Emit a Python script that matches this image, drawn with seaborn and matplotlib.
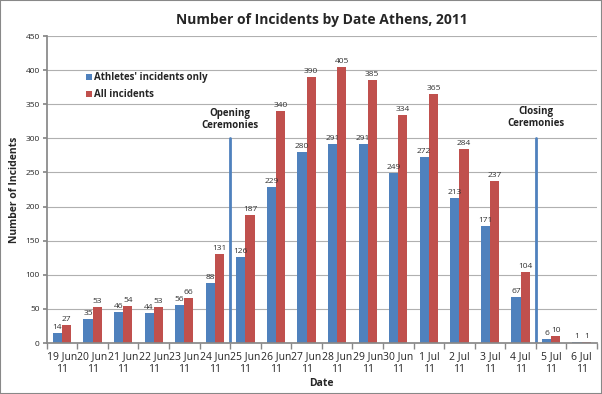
import matplotlib
matplotlib.use("Agg")
import matplotlib.pyplot as plt
import numpy as np
import pandas as pd
import seaborn as sns
from matplotlib.patches import Rectangle
from matplotlib.ticker import FixedLocator, MultipleLocator

dates = ["19 Jun\n11", "20 Jun\n11", "21 Jun\n11", "22 Jun\n11", "23 Jun\n11",
         "24 Jun\n11", "25 Jun\n11", "26 Jun\n11", "27 Jun\n11", "28 Jun\n11",
         "29 Jun\n11", "30 Jun\n11", "1 Jul\n11", "2 Jul\n11", "3 Jul\n11",
         "4 Jul\n11", "5 Jul\n11", "6 Jul\n11"]
athletes = [14, 35, 46, 44, 56, 88, 126, 229, 280, 291, 291, 249, 272, 213, 171, 67, 6, 1]
all_incidents = [27, 53, 54, 53, 66, 131, 187, 340, 390, 405, 385, 334, 365, 284, 237, 104, 10, 1]
series = ["Athletes' incidents only", "All incidents"]
colors = ["#4F81BD", "#C0504D"]
events = [("Opening\nCeremonies", 5.5, 345), ("Closing\nCeremonies", 15.5, 348)]
event_height = 300

sns.set_theme(style="white")
plt.rcParams["font.family"] = ["Open Sans", "DejaVu Sans"]

df = pd.DataFrame({
    "date": dates * 2,
    "count": athletes + all_incidents,
    "series": [series[0]] * len(dates) + [series[1]] * len(dates),
})

fig = plt.figure(figsize=(6.02, 3.94), dpi=100)
ax = fig.add_axes([0.0776, 0.1294, 0.914, 0.7792])
sns.barplot(data=df, x="date", y="count", hue="series", palette=colors,
            width=0.6, gap=0, saturation=1, ax=ax, linewidth=0)

for c in ax.containers:
    ax.bar_label(c, fontsize=6, padding=1.5, color="#333333")

for label, xpos, ytop in events:
    ax.plot([xpos, xpos], [0, event_height], color="#4F81BD", linewidth=2)
    ax.text(xpos, ytop, label, ha="center", va="top", fontsize=7,
            fontweight="bold", color="#222222")

ax.set_ylim(0, 450)
ax.set_xlim(-0.5, len(dates) - 0.5)
ax.yaxis.set_major_locator(MultipleLocator(50))
ax.yaxis.grid(True, color="#b0b0b0", linewidth=0.8)
ax.set_axisbelow(True)
ax.tick_params(axis="y", labelsize=6, length=3, color="#888888", left=True, pad=2)
ax.tick_params(axis="x", labelsize=7.5, length=0, pad=6)
ax.xaxis.set_minor_locator(FixedLocator(np.arange(-0.5, len(dates), 1)))
ax.tick_params(axis="x", which="minor", length=4, color="#888888", bottom=True)
for s in ["top", "right"]:
    ax.spines[s].set_visible(False)
for s in ["left", "bottom"]:
    ax.spines[s].set_color("#888888")

ax.set_xlabel("Date", fontsize=7.5, fontweight="bold", labelpad=2)
ax.set_ylabel("Number of Incidents", fontsize=7.5, fontweight="bold", labelpad=4)
ax.set_title("Number of Incidents by Date Athens, 2011", fontsize=10,
             fontweight="bold", pad=9)

leg = ax.legend(loc="upper left", bbox_to_anchor=(0.055, 0.91), frameon=False,
                fontsize=7, handlelength=0.6, handleheight=0.6,
                handletextpad=0.3, labelspacing=0.6)
for t in leg.get_texts():
    t.set_fontweight("bold")

fig.patches.append(Rectangle((0, 0), 1, 1, transform=fig.transFigure,
                             fill=False, edgecolor="#888888", linewidth=1.5))

fig.savefig("out.png", dpi=100)
